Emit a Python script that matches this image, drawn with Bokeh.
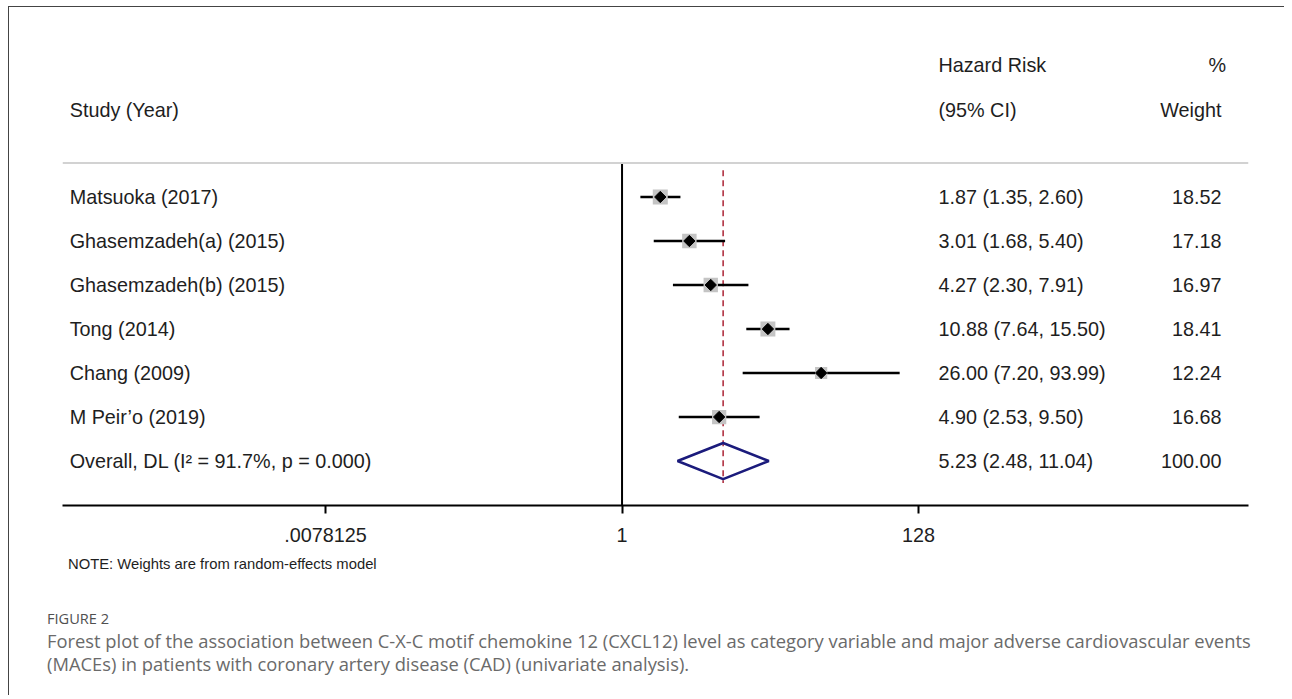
from bokeh.plotting import figure
from bokeh.models import Range1d, FixedTicker, Span
from bokeh.core.properties import value
from bokeh.embed import file_html
from bokeh.resources import INLINE
import math

# ---------------- data ----------------
studies = ["Matsuoka (2017)", "Ghasemzadeh(a) (2015)", "Ghasemzadeh(b) (2015)",
           "Tong (2014)", "Chang (2009)", "M Peir\u2019o (2019)"]
hr = [1.87, 3.01, 4.27, 10.88, 26.00, 4.90]
lci = [1.35, 1.68, 2.30, 7.64, 7.20, 2.53]
uci = [2.60, 5.40, 7.91, 15.50, 93.99, 9.50]
weights = [18.52, 17.18, 16.97, 18.41, 12.24, 16.68]

overall_label = "Overall, DL (I\u00b2 = 91.7%, p = 0.000)"
overall_est = 5.23
overall_lci = 2.48
overall_uci = 11.04
overall_weight = 100.00

tick_values = [0.0078125, 1, 128]
tick_labels = [".0078125", "1", "128"]

header_study = "Study (Year)"
header_ci = ["Hazard Risk", "(95% CI)"]
header_w = ["%", "Weight"]
note = "NOTE: Weights are from random-effects model"
fig_label = "FIGURE 2"
caption = ["Forest plot of the association between C-X-C motif chemokine 12 (CXCL12) level as category variable and major adverse cardiovascular events",
           "(MACEs) in patients with coronary artery disease (CAD) (univariate analysis)."]

# ---------------- layout constants ----------------
FONT = value("Liberation Sans")
FS = "19.8px"
TXT = "#1e1e1e"
X_LO, X_HI = 2 ** -13.21, 2 ** 14.79
Y_LO, Y_HI = -7.011, 4.307
COL_STUDY = 2 ** -13.04
COL_CI = 2 ** 7.47
COL_W = 2 ** 14.15
COL_PCT = 2 ** 14.26
SEP_Y = 0.773
W = 1276
H_TOP = 543
H_BOT = 146
BORDER = "1.5px solid #444"

n = len(studies)
rows = [-i for i in range(n)]
overall_y = -n

p = figure(width=W, height=H_TOP, x_axis_type="log",
           x_range=Range1d(X_LO, X_HI), y_range=Range1d(Y_LO, Y_HI),
           y_axis_location=None,
           output_backend="svg", toolbar_location=None,
           min_border_left=53, min_border_right=37, min_border_top=0, min_border_bottom=45)
p.styles = {"margin-left": "8px", "margin-top": "6px",
            "border-left": BORDER, "border-top": BORDER}
p.outline_line_color = None
p.grid.visible = False
p.background_fill_color = "white"
p.border_fill_color = "white"

# axis
ax = p.xaxis[0]
ax.ticker = FixedTicker(ticks=tick_values)
ax.major_label_overrides = {v: l for v, l in zip(tick_values, tick_labels)}
ax.minor_tick_line_color = None
ax.major_tick_in = 0
ax.major_tick_out = 8
ax.major_tick_line_width = 2
ax.axis_line_width = 2
ax.axis_line_color = "black"
ax.major_tick_line_color = "black"
ax.major_label_text_font = "Liberation Sans"
ax.major_label_text_font_size = FS
ax.major_label_text_color = TXT
ax.major_label_standoff = 14

# separator
p.add_layout(Span(location=SEP_Y, dimension="width", line_color="#d2d2d2", line_width=2))

# null line at 1
p.segment(x0=[1], y0=[SEP_Y], x1=[1], y1=[Y_LO], line_color="black", line_width=2)

# overall dashed line
p.segment(x0=[overall_est], y0=[0.61], x1=[overall_est], y1=[-6.5],
          line_color="#b03040", line_width=1.6, line_dash="6 4")

# CI lines
p.segment(x0=lci, y0=rows, x1=uci, y1=rows, line_color="black", line_width=2.6)

# weight boxes
sizes = [15.0 * math.sqrt(w / max(weights)) for w in weights]
p.scatter(x=hr, y=rows, marker="square", size=sizes, fill_color="#c4c4c4",
          line_color=None)
# point estimates
p.scatter(x=hr, y=rows, marker="square", size=8, angle=math.pi / 4,
          fill_color="black", line_color="black")

# overall diamond
h = 0.41
p.patch(x=[overall_lci, overall_est, overall_uci, overall_est],
        y=[overall_y, overall_y + h, overall_y, overall_y - h],
        fill_color=None, line_color="#1b1b7c", line_width=2.5)

# ---------------- table texts ----------------
def txt(fig, xs, ys, texts, align="left", size=FS, color=TXT, font=FONT):
    fig.text(x=xs, y=ys, text=texts, text_font=font, text_font_size=size,
             text_baseline="middle", text_align=align, text_color=color)

all_y = rows + [overall_y]
txt(p, [COL_STUDY] * (n + 1), all_y, studies + [overall_label])
ci_txt = [f"{a:.2f} ({b:.2f}, {c:.2f})" for a, b, c in zip(hr, lci, uci)]
ci_txt.append(f"{overall_est:.2f} ({overall_lci:.2f}, {overall_uci:.2f})")
txt(p, [COL_CI] * (n + 1), all_y, ci_txt)
w_txt = [f"{w:.2f}" for w in weights] + [f"{overall_weight:.2f}"]
txt(p, [COL_W] * (n + 1), all_y, w_txt, align="right")

# headers
txt(p, [COL_STUDY], [1.977], [header_study])
txt(p, [COL_CI, COL_CI], [3.0, 1.977], header_ci)
txt(p, [COL_PCT, COL_W], [3.0, 1.977], header_w, align="right")

# ---------------- note + caption panel ----------------
q = figure(width=W, height=H_BOT, x_range=Range1d(0, W), y_range=Range1d(H_BOT, 0),
           x_axis_location=None, y_axis_location=None,
           output_backend="svg", toolbar_location=None,
           min_border_left=0, min_border_right=0, min_border_top=0, min_border_bottom=0)
q.styles = {"margin-left": "8px", "border-left": BORDER}
q.outline_line_color = None
q.grid.visible = False
q.background_fill_color = "white"
q.border_fill_color = "white"

txt(q, [58.5], [14.5], [note], size="14.8px")
txt(q, [37.5], [68.0], [fig_label], size="14.6px", color="#505050", font=value("Open Sans"))
txt(q, [37.5, 37.5], [90.5, 114.0], caption, size="18.35px", color="#6a6a6a",
    font=value("Open Sans"))

open("out.html", "w").write(file_html([p, q], INLINE))
